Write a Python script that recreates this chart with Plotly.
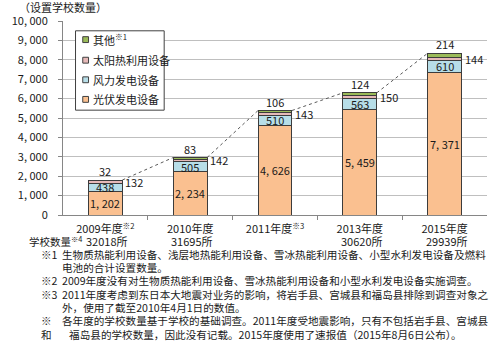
import plotly.graph_objects as go

# --- data -------------------------------------------------------------
years = ["2009年度", "2010年度", "2011年度", "2013年度", "2015年度"]
year_notes = ["※2", "", "※3", "", ""]
school_counts = ["32018所", "31695所", "", "30620所", "29939所"]

pv = [1202, 2234, 4626, 5459, 7371]          # 光伏发电设备
wind = [438, 505, 510, 563, 610]             # 风力发电设备
solar_heat = [132, 142, 143, 150, 144]       # 太阳热利用设备
other = [32, 83, 106, 124, 214]              # 其他

series_names = ["光伏发电设备", "风力发电设备", "太阳热利用设备", "其他"]
series_notes = ["", "", "", "※1"]
series_colors = ["#FAC090", "#B7DEE8", "#E6B9B8", "#9BBB59"]

y_ticks = list(range(0, 10001, 1000))

footnotes = [
    ("※1", "生物质热能利用设备、浅层地热能利用设备、雪冰热能利用设备、小型水利发电设备及燃料"),
    ("", "电池的合计设置数量。"),
    ("※2", "2009年度没有对生物质热能利用设备、雪冰热能利用设备和小型水利发电设备实施调查。"),
    ("※3", "2011年度考虑到东日本大地震对业务的影响，将岩手县、宫城县和福岛县排除到调查对象之"),
    ("", "外，使用了截至2010年4月1日的数值。"),
    ("※", "各年度的学校数量基于学校的基础调查。2011年度受地震影响，只有不包括岩手县、宫城县"),
    ("和", "   福岛县的学校数量，因此没有记载。2015年度使用了速报值（2015年8月6日公布）。"),
]

# --- geometry helpers ---------------------------------------------------
FONT = "Noto Sans CJK SC"
TXT = "#1a1a1a"
W, H = 500, 346
ML, MR, MT, MB = 47, 13, 17, 131
PW, PH = W - ML - MR, H - MT - MB
BAR_W = 0.4


def px(x):
    return (x - ML) / PW


def py(y):
    return (MT + PH - y) / PH


def fmt(v):
    return f"{v:,}".replace(",", ", ")


def note(x, y, text, size=11, **kw):
    """Text placed by pixel position, left edge at x, vertically centred on y."""
    d = dict(x=px(x), y=py(y), xref="paper", yref="paper", xanchor="left",
             yanchor="middle", text=text, showarrow=False, borderpad=0,
             font=dict(family=FONT, size=size, color=TXT))
    d.update(kw)
    return d


xs = list(range(len(years)))
stack = [pv, wind, solar_heat, other]
totals = [sum(s[i] for s in stack) for i in xs]

fig = go.Figure()

for vals, name, color in zip(stack, series_names, series_colors):
    fig.add_trace(go.Bar(
        x=xs, y=vals, name=name, width=BAR_W,
        marker=dict(color=color, line=dict(color="#3c3c3c", width=1)),
        showlegend=False, hoverinfo="skip",
    ))

# series lines joining the stack tops
lx, ly = [], []
for i in xs[:-1]:
    lx += [i + BAR_W / 2, i + 1 - BAR_W / 2, None]
    ly += [totals[i], totals[i + 1], None]
fig.add_trace(go.Scatter(
    x=lx, y=ly, mode="lines", showlegend=False, hoverinfo="skip",
    line=dict(color="#5a5a5a", width=1, dash="dot"),
))

ann = []
lab_font = dict(family=FONT, size=11, color=TXT)
for i in xs:
    base = 0
    # values inside the two lower segments
    for vals in (pv, wind):
        ann.append(dict(x=i, y=base + vals[i] / 2, text=fmt(vals[i]),
                        showarrow=False, font=lab_font, xref="x", yref="y",
                        xanchor="center", yanchor="middle", borderpad=0))
        base += vals[i]
    # solar heat value to the right of the bar
    ann.append(dict(x=i + BAR_W / 2, y=base + solar_heat[i] / 2, text=fmt(solar_heat[i]),
                    showarrow=False, xanchor="left", yanchor="middle", xshift=2,
                    borderpad=0, font=lab_font, xref="x", yref="y"))
    # "other" value on top of the stack
    ann.append(dict(x=i, y=totals[i], text=fmt(other[i]), showarrow=False,
                    xanchor="center", yanchor="bottom", yshift=0, borderpad=0,
                    font=lab_font, xref="x", yref="y"))
    # school counts below the category labels
    if school_counts[i]:
        ann.append(dict(x=i, y=py(242), xref="x", yref="paper", text=school_counts[i],
                        showarrow=False, xanchor="left", yanchor="middle", xshift=-20,
                        borderpad=0, font=lab_font))

ann.append(note(11, 242, "学校数量<sup>※4</sup>", size=10.5))

# axis title in the top-left corner
ann.append(note(0, 3, "（设置学校数量）"))

# footnotes
fy = 255
for mark, body in footnotes:
    if mark:
        ann.append(note(23, fy, mark, size=10.6))
    ann.append(note(45, fy, body, size=10.6))
    fy += 13.6

# legend box drawn by hand
shapes = [dict(type="rect", xref="paper", yref="paper",
               x0=px(60), x1=px(152), y0=py(108), y1=py(27),
               line=dict(color="#404040", width=1), fillcolor="white", layer="above")]
leg_y = [97, 77, 57, 36]
for name, nt, color, yy in zip(series_names, series_notes, series_colors, leg_y):
    shapes.append(dict(type="rect", xref="paper", yref="paper",
                       x0=px(67.5), x1=px(73.5), y0=py(yy + 3), y1=py(yy - 3),
                       line=dict(color="#404040", width=1), fillcolor=color, layer="above"))
    ann.append(note(77, yy, name + (f"<sup>{nt}</sup>" if nt else "")))

fig.update_layout(
    width=W, height=H, barmode="stack",
    margin=dict(l=ML, r=MR, t=MT, b=MB, pad=0),
    paper_bgcolor="white", plot_bgcolor="white",
    font=dict(family=FONT, size=11, color=TXT),
    annotations=ann, shapes=shapes,
    xaxis=dict(
        range=[-0.5, 4.5], tickmode="array", tickvals=xs,
        ticktext=[y + (f"<sup>{n}</sup>" if n else "") for y, n in zip(years, year_notes)],
        ticks="", showline=True, linecolor="#868686", linewidth=1,
        showgrid=False, zeroline=False, fixedrange=True, ticklabelstandoff=4,
        tickfont=dict(family=FONT, size=11, color=TXT),
        minor=dict(tickvals=[k + 0.5 for k in xs[:-1]], ticks="outside",
                   ticklen=4, tickcolor="#868686", showgrid=False),
    ),
    yaxis=dict(
        range=[0, 10000], tickmode="array", tickvals=y_ticks,
        ticktext=[fmt(v) for v in y_ticks],
        showgrid=True, gridcolor="#BFBFBF", gridwidth=1,
        showline=True, linecolor="#868686", linewidth=1,
        ticks="outside", ticklen=4, tickcolor="#868686",
        ticklabelstandoff=8, zeroline=False, fixedrange=True,
        tickfont=dict(family=FONT, size=11, color=TXT),
    ),
)

fig.write_html("out.html")
